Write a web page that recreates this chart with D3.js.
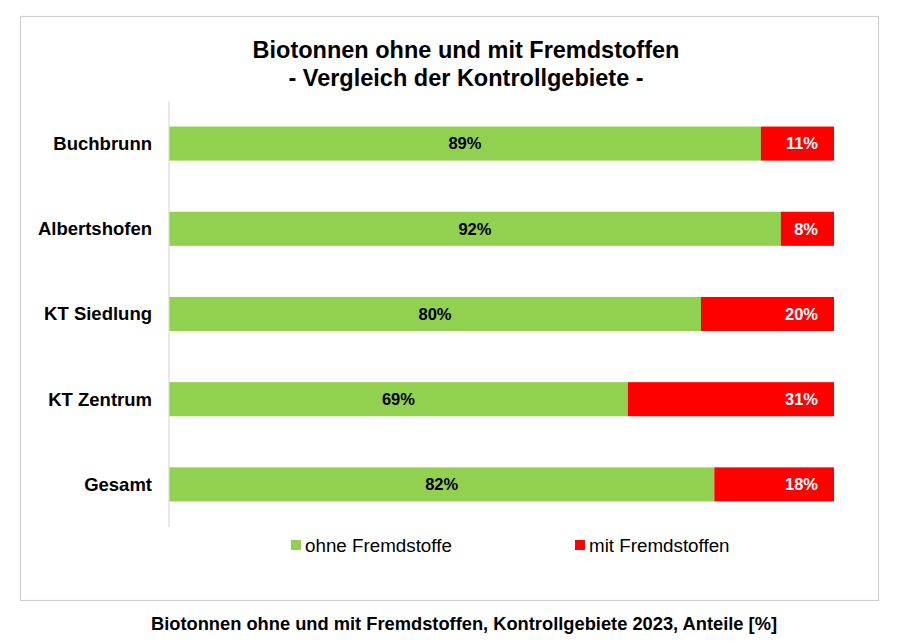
<!DOCTYPE html>
<html>
<head>
<meta charset="utf-8">
<script src="https://cdn.jsdelivr.net/npm/d3@7"></script>
<style>
  html, body { margin: 0; padding: 0; background: #fff; }
  svg { display: block; font-family: "Liberation Sans", Arial, sans-serif; }
</style>
</head>
<body>
<svg id="chart" width="900" height="641"></svg>
<script>
const categories = ["Buchbrunn", "Albertshofen", "KT Siedlung", "KT Zentrum", "Gesamt"];
const ohneValues = [89, 92, 80, 69, 82];
const mitValues = [11, 8, 20, 31, 18];
const seriesNames = ["ohne Fremdstoffe", "mit Fremdstoffen"];
const seriesColors = ["#92D050", "#FF0000"];
const titleLines = ["Biotonnen ohne und mit Fremdstoffen", "- Vergleich der Kontrollgebiete -"];
const caption = "Biotonnen ohne und mit Fremdstoffen, Kontrollgebiete 2023, Anteile [%]";

const svg = d3.select("#chart");

// chart frame
svg.append("rect")
  .attr("x", 20.5).attr("y", 16.5)
  .attr("width", 858).attr("height", 584)
  .attr("fill", "#fff").attr("stroke", "#cfcfcf").attr("stroke-width", 1.2);

// title
const title = svg.append("text")
  .attr("text-anchor", "middle")
  .attr("font-weight", "bold").attr("font-size", 23.5).attr("fill", "#000");
titleLines.forEach((t, i) => {
  title.append("tspan").attr("x", 466).attr("y", 58 + i * 28).text(t);
});

const data = categories.map((c, i) => ({ cat: c, ohne: ohneValues[i], mit: mitValues[i] }));

const x = d3.scaleLinear().domain([0, 100]).range([169, 834]);
const y = d3.scaleBand().domain(categories).range([101, 527]).paddingInner(0.6).paddingOuter(0.3);

const stack = d3.stack().keys(["ohne", "mit"])(data);

const g = svg.append("g");
stack.forEach((layer, li) => {
  g.selectAll(".bar" + li)
    .data(layer)
    .join("rect")
    .attr("x", d => x(d[0]))
    .attr("y", d => y(d.data.cat))
    .attr("width", d => x(d[1]) - x(d[0]))
    .attr("height", y.bandwidth())
    .attr("fill", seriesColors[li]);
});

// axis (category)
const yAxis = d3.axisLeft(y).tickSize(0).tickPadding(17);
const ax = svg.append("g").attr("transform", `translate(${x(0)},0)`).call(yAxis);
ax.select(".domain").attr("stroke", "#d9d9d9").attr("stroke-width", 1.2)
  .attr("d", `M0,101V527`);
ax.selectAll(".tick text")
  .attr("font-family", "Liberation Sans, Arial, sans-serif")
  .attr("font-size", 18.5).attr("font-weight", "bold").attr("fill", "#000")
  .attr("dy", "0.35em");

// labels: ohne (centered)
g.selectAll(".lblO")
  .data(stack[0])
  .join("text")
  .attr("x", d => (x(d[0]) + x(d[1])) / 2)
  .attr("y", d => y(d.data.cat) + y.bandwidth() / 2)
  .attr("dy", "0.35em")
  .attr("text-anchor", "middle")
  .attr("font-size", 16.5).attr("font-weight", "bold").attr("fill", "#000")
  .text(d => d.data.ohne + "%");

// labels: mit (inside end)
g.selectAll(".lblM")
  .data(stack[1])
  .join("text")
  .attr("x", d => x(d[1]) - 16)
  .attr("y", d => y(d.data.cat) + y.bandwidth() / 2)
  .attr("dy", "0.35em")
  .attr("text-anchor", "end")
  .attr("font-size", 16.5).attr("font-weight", "bold").attr("fill", "#fff")
  .text(d => d.data.mit + "%");

// legend
const legendX = [291, 575];
seriesNames.forEach((n, i) => {
  const lg = svg.append("g").attr("transform", `translate(${legendX[i]},540)`);
  lg.append("rect").attr("width", 10).attr("height", 10).attr("fill", seriesColors[i]);
  lg.append("text").attr("x", i === 0 ? 14 : 14).attr("y", 11.5)
    .attr("font-size", 18.8).attr("fill", "#000").text(n);
});

// caption
svg.append("text")
  .attr("x", 464).attr("y", 630)
  .attr("text-anchor", "middle")
  .attr("font-weight", "bold").attr("font-size", 18.3).attr("fill", "#000")
  .text(caption);
</script>
</body>
</html>
